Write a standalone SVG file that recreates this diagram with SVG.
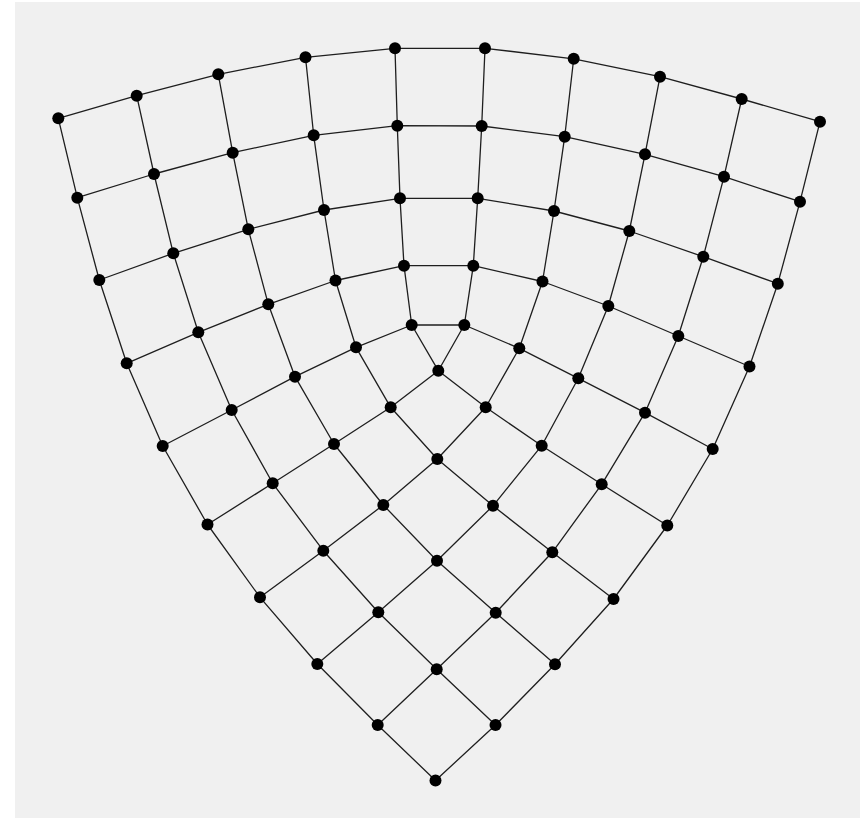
<svg xmlns="http://www.w3.org/2000/svg" width="860" height="818" viewBox="0 0 860 818">
<style>
.e{fill:none;stroke:#1e1e1e;stroke-width:1.3;stroke-linejoin:round}
.n{fill:#000}
</style>
<rect x="0" y="0" width="860" height="818" fill="#ffffff"/>
<rect x="15" y="2" width="845" height="816" fill="#f0f0f0"/>
<g id="connectors">
<polyline class="e" points="435.5,780.5 377.7,725 317.3,664 260,597.3 207.5,524.5 162.7,446 126.7,363.3 99.3,280 77.3,197.7 58.3,118.3"/>
<polyline class="e" points="495.5,725 436.7,669.3 378.3,612.3 323.3,550.7 272.7,483.3 231.7,410 198.3,332.3 173.3,253.3 154,174 136.7,95.7"/>
<polyline class="e" points="555,664.3 495.7,612.7 437,560.7 383.3,505 334,444 295,376.7 268.3,304.3 248.3,229.3 232.7,152.7 218.3,74.3"/>
<polyline class="e" points="613.5,599 552.3,552.3 493,505.8 437.3,459 390.7,407.3 356,347.3 335.5,280.5 324,210 313.7,135.3 305.5,57.3"/>
<polyline class="e" points="667.3,525.5 601.7,484.3 541.7,445.7 485.7,407.3 438.3,370.7 411.7,325 404,265.7 400,198.3 397.3,125.7 395,48.3"/>
<polyline class="e" points="435.5,780.5 495.5,725 555,664.3 613.5,599 667.3,525.5 712.7,449 749.5,366.5 777.8,283.7 800,201.7 820,121.7"/>
<polyline class="e" points="377.7,725 436.7,669.3 495.7,612.7 552.3,552.3 601.7,484.3 645,412.7 678.3,336 703.3,256.7 724,176.7 741.7,99"/>
<polyline class="e" points="317.3,664 378.3,612.3 437,560.7 493,505.8 541.7,445.7 578.3,378.3 608.3,306 629.3,231 645,154.3 660,76.7"/>
<polyline class="e" points="260,597.3 323.3,550.7 383.3,505 437.3,459 485.7,407.3 519.3,348.3 542.5,281.5 554,211 564.7,136.7 573.7,58.8"/>
<polyline class="e" points="207.5,524.5 272.7,483.3 334,444 390.7,407.3 438.3,370.7 464.3,325 473.3,265.7 477.7,198.3 481.7,126 485,48.3"/>
<polyline class="e" points="162.7,446 231.7,410 295,376.7 356,347.3 411.7,325 464.3,325 519.3,348.3 578.3,378.3 645,412.7 712.7,449"/>
<polyline class="e" points="126.7,363.3 198.3,332.3 268.3,304.3 335.5,280.5 404,265.7 473.3,265.7 542.5,281.5 608.3,306 678.3,336 749.5,366.5"/>
<polyline class="e" points="99.3,280 173.3,253.3 248.3,229.3 324,210 400,198.3 477.7,198.3 554,211 629.3,231 703.3,256.7 777.8,283.7"/>
<polyline class="e" points="77.3,197.7 154,174 232.7,152.7 313.7,135.3 397.3,125.7 481.7,126 564.7,136.7 645,154.3 724,176.7 800,201.7"/>
<polyline class="e" points="58.3,118.3 136.7,95.7 218.3,74.3 305.5,57.3 395,48.3 485,48.3 573.7,58.8 660,76.7 741.7,99 820,121.7"/>
</g>
<g id="nodes">
<g id="n0-0"><circle class="n" cx="435.5" cy="780.5" r="6"/></g>
<g id="n0-1"><circle class="n" cx="495.5" cy="725" r="6"/></g>
<g id="n0-2"><circle class="n" cx="555" cy="664.3" r="6"/></g>
<g id="n0-3"><circle class="n" cx="613.5" cy="599" r="6"/></g>
<g id="n0-4"><circle class="n" cx="667.3" cy="525.5" r="6"/></g>
<g id="n0-5"><circle class="n" cx="712.7" cy="449" r="6"/></g>
<g id="n0-6"><circle class="n" cx="749.5" cy="366.5" r="6"/></g>
<g id="n0-7"><circle class="n" cx="777.8" cy="283.7" r="6"/></g>
<g id="n0-8"><circle class="n" cx="800" cy="201.7" r="6"/></g>
<g id="n0-9"><circle class="n" cx="820" cy="121.7" r="6"/></g>
<g id="n1-0"><circle class="n" cx="377.7" cy="725" r="6"/></g>
<g id="n1-1"><circle class="n" cx="436.7" cy="669.3" r="6"/></g>
<g id="n1-2"><circle class="n" cx="495.7" cy="612.7" r="6"/></g>
<g id="n1-3"><circle class="n" cx="552.3" cy="552.3" r="6"/></g>
<g id="n1-4"><circle class="n" cx="601.7" cy="484.3" r="6"/></g>
<g id="n1-5"><circle class="n" cx="645" cy="412.7" r="6"/></g>
<g id="n1-6"><circle class="n" cx="678.3" cy="336" r="6"/></g>
<g id="n1-7"><circle class="n" cx="703.3" cy="256.7" r="6"/></g>
<g id="n1-8"><circle class="n" cx="724" cy="176.7" r="6"/></g>
<g id="n1-9"><circle class="n" cx="741.7" cy="99" r="6"/></g>
<g id="n2-0"><circle class="n" cx="317.3" cy="664" r="6"/></g>
<g id="n2-1"><circle class="n" cx="378.3" cy="612.3" r="6"/></g>
<g id="n2-2"><circle class="n" cx="437" cy="560.7" r="6"/></g>
<g id="n2-3"><circle class="n" cx="493" cy="505.8" r="6"/></g>
<g id="n2-4"><circle class="n" cx="541.7" cy="445.7" r="6"/></g>
<g id="n2-5"><circle class="n" cx="578.3" cy="378.3" r="6"/></g>
<g id="n2-6"><circle class="n" cx="608.3" cy="306" r="6"/></g>
<g id="n2-7"><circle class="n" cx="629.3" cy="231" r="6"/></g>
<g id="n2-8"><circle class="n" cx="645" cy="154.3" r="6"/></g>
<g id="n2-9"><circle class="n" cx="660" cy="76.7" r="6"/></g>
<g id="n3-0"><circle class="n" cx="260" cy="597.3" r="6"/></g>
<g id="n3-1"><circle class="n" cx="323.3" cy="550.7" r="6"/></g>
<g id="n3-2"><circle class="n" cx="383.3" cy="505" r="6"/></g>
<g id="n3-3"><circle class="n" cx="437.3" cy="459" r="6"/></g>
<g id="n3-4"><circle class="n" cx="485.7" cy="407.3" r="6"/></g>
<g id="n3-5"><circle class="n" cx="519.3" cy="348.3" r="6"/></g>
<g id="n3-6"><circle class="n" cx="542.5" cy="281.5" r="6"/></g>
<g id="n3-7"><circle class="n" cx="554" cy="211" r="6"/></g>
<g id="n3-8"><circle class="n" cx="564.7" cy="136.7" r="6"/></g>
<g id="n3-9"><circle class="n" cx="573.7" cy="58.8" r="6"/></g>
<g id="n4-0"><circle class="n" cx="207.5" cy="524.5" r="6"/></g>
<g id="n4-1"><circle class="n" cx="272.7" cy="483.3" r="6"/></g>
<g id="n4-2"><circle class="n" cx="334" cy="444" r="6"/></g>
<g id="n4-3"><circle class="n" cx="390.7" cy="407.3" r="6"/></g>
<g id="n4-4"><circle class="n" cx="438.3" cy="370.7" r="6"/></g>
<g id="n4-5"><circle class="n" cx="464.3" cy="325" r="6"/></g>
<g id="n4-6"><circle class="n" cx="473.3" cy="265.7" r="6"/></g>
<g id="n4-7"><circle class="n" cx="477.7" cy="198.3" r="6"/></g>
<g id="n4-8"><circle class="n" cx="481.7" cy="126" r="6"/></g>
<g id="n4-9"><circle class="n" cx="485" cy="48.3" r="6"/></g>
<g id="n5-0"><circle class="n" cx="162.7" cy="446" r="6"/></g>
<g id="n5-1"><circle class="n" cx="231.7" cy="410" r="6"/></g>
<g id="n5-2"><circle class="n" cx="295" cy="376.7" r="6"/></g>
<g id="n5-3"><circle class="n" cx="356" cy="347.3" r="6"/></g>
<g id="n5-4"><circle class="n" cx="411.7" cy="325" r="6"/></g>
<g id="n6-0"><circle class="n" cx="126.7" cy="363.3" r="6"/></g>
<g id="n6-1"><circle class="n" cx="198.3" cy="332.3" r="6"/></g>
<g id="n6-2"><circle class="n" cx="268.3" cy="304.3" r="6"/></g>
<g id="n6-3"><circle class="n" cx="335.5" cy="280.5" r="6"/></g>
<g id="n6-4"><circle class="n" cx="404" cy="265.7" r="6"/></g>
<g id="n7-0"><circle class="n" cx="99.3" cy="280" r="6"/></g>
<g id="n7-1"><circle class="n" cx="173.3" cy="253.3" r="6"/></g>
<g id="n7-2"><circle class="n" cx="248.3" cy="229.3" r="6"/></g>
<g id="n7-3"><circle class="n" cx="324" cy="210" r="6"/></g>
<g id="n7-4"><circle class="n" cx="400" cy="198.3" r="6"/></g>
<g id="n8-0"><circle class="n" cx="77.3" cy="197.7" r="6"/></g>
<g id="n8-1"><circle class="n" cx="154" cy="174" r="6"/></g>
<g id="n8-2"><circle class="n" cx="232.7" cy="152.7" r="6"/></g>
<g id="n8-3"><circle class="n" cx="313.7" cy="135.3" r="6"/></g>
<g id="n8-4"><circle class="n" cx="397.3" cy="125.7" r="6"/></g>
<g id="n9-0"><circle class="n" cx="58.3" cy="118.3" r="6"/></g>
<g id="n9-1"><circle class="n" cx="136.7" cy="95.7" r="6"/></g>
<g id="n9-2"><circle class="n" cx="218.3" cy="74.3" r="6"/></g>
<g id="n9-3"><circle class="n" cx="305.5" cy="57.3" r="6"/></g>
<g id="n9-4"><circle class="n" cx="395" cy="48.3" r="6"/></g>
</g>
</svg>
